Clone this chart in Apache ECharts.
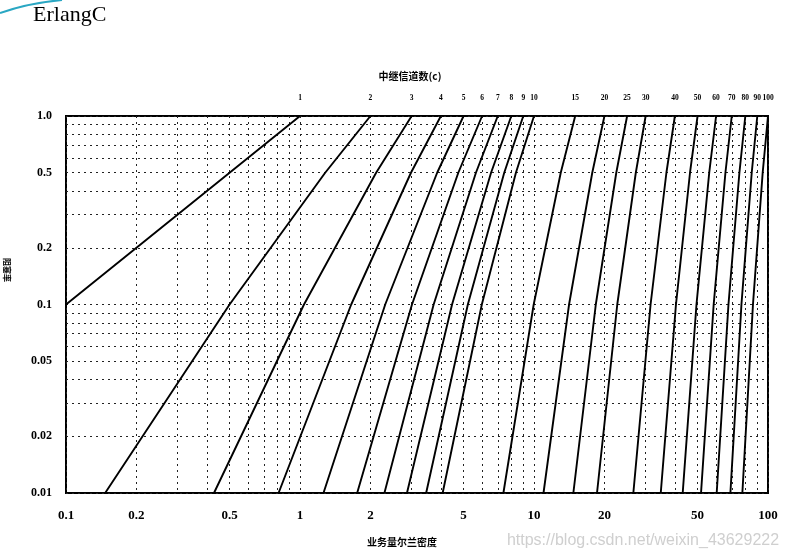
<!DOCTYPE html>
<html><head><meta charset="utf-8">
<script src="https://cdn.jsdelivr.net/npm/echarts@6/dist/echarts.min.js"></script>
<style>html,body{margin:0;padding:0;background:#fff}#c{width:788px;height:558px}</style>
</head><body><div id="c"></div>
<script>
// number of trunks c (one curve each)
const trunks = [1, 2, 3, 4, 5, 6, 7, 8, 9, 10, 15, 20, 25, 30, 40, 50, 60, 70, 80, 90, 100];
// traffic (Erlang) where each curve crosses the given delay probability
const loadAtP001 = [0.01, 0.147, 0.429, 0.81, 1.26, 1.755, 2.295, 2.865, 3.46, 4.07, 7.40, 10.98, 14.73, 18.59, 26.58, 34.81, 43.20, 51.73, 60.36, 69.07, 77.7];
const loadAtP01  = [0.1, 0.5, 1.04, 1.655, 2.313, 3.01, 3.725, 4.465, 5.215, 5.985, 9.97, 14.12, 18.37, 22.69, 31.49, 40.43, 49.47, 58.59, 67.77, 77.0, 86.25];
const loadAtP05  = [0.5, 1.281, 2.115, 2.98, 3.856, 4.748, 5.647, 6.553, 7.46, 8.37, 13.01, 17.74, 22.47, 27.23, 36.80, 46.42, 56.08, 65.77, 75.47, 85.2, 94.9];
const loadAtP1   = [1, 2, 3, 4, 5, 6, 7, 8, 9, 10, 15, 20, 25, 30, 40, 50, 60, 70, 80, 90, 100];
const probLevels = [0.01, 0.1, 0.5, 1.0];

const xTickLabels = [0.1, 0.2, 0.5, 1, 2, 5, 10, 20, 50, 100];
const yTickLabels = [0.01, 0.02, 0.05, 0.1, 0.2, 0.5, 1.0];
const xGridValues = [0.1, 0.2, 0.3, 0.4, 0.5, 0.6, 0.7, 0.8, 0.9, 1, 2, 3, 4, 5, 6, 7, 8, 9, 10, 20, 30, 40, 50, 60, 70, 80, 90, 100];
const yGridValues = [0.01, 0.02, 0.03, 0.04, 0.05, 0.06, 0.07, 0.08, 0.09, 0.1, 0.2, 0.3, 0.4, 0.5, 0.6, 0.7, 0.8, 0.9, 1.0];

const fmt = v => { const r = Number(Number(v).toPrecision(2)); return r === 1 ? '1.0' : String(r); };
const fmtX = v => String(Number(Number(v).toPrecision(2)));

const loadTables = [loadAtP001, loadAtP01, loadAtP05, loadAtP1];
const series = trunks.map((c, i) => ({
  type: 'line',
  name: 'c=' + c,
  xAxisIndex: 0, yAxisIndex: 0,
  data: probLevels.map((p, j) => [loadTables[j][i], p]),
  symbol: 'none',
  clip: true,
  silent: true,
  lineStyle: { color: '#000', width: 1.9 }
}));

const chart = echarts.init(document.getElementById('c'), null, { renderer: 'canvas' });
const labelFont = { fontFamily: 'Liberation Serif', fontWeight: 'bold', color: '#000' };
chart.setOption({
  animation: false,
  backgroundColor: '#fff',
  grid: { left: 66, right: 20, top: 116, bottom: 65, show: true, borderColor: '#000', borderWidth: 2, backgroundColor: 'transparent' },
  xAxis: [
    {
      type: 'log', logBase: 10, min: 0.1, max: 100, position: 'bottom',
      axisLine: { show: false },
      axisTick: { show: false, customValues: xGridValues },
      splitLine: { show: true, lineStyle: { color: '#222', type: [2, 4], width: 1 } },
      minorTick: { show: false }, minorSplitLine: { show: false },
      axisLabel: Object.assign({ customValues: xTickLabels, formatter: fmtX, fontSize: 13, margin: 16 }, labelFont)
    },
    {
      type: 'log', logBase: 10, min: 0.1, max: 100, position: 'top',
      axisLine: { show: false }, axisTick: { show: false }, splitLine: { show: false },
      axisLabel: Object.assign({ customValues: trunks, formatter: v => String(Math.round(v)), fontSize: 7.5, margin: 14 }, labelFont)
    }
  ],
  yAxis: {
    type: 'log', logBase: 10, min: 0.01, max: 1,
    axisLine: { show: false },
    axisTick: { show: false, customValues: yGridValues },
    splitLine: { show: true, lineStyle: { color: '#222', type: [2, 4], width: 1 } },
    axisLabel: Object.assign({ customValues: yTickLabels, formatter: fmt, fontSize: 12, margin: 14 }, labelFont)
  },
  graphic: [
    { type: 'bezierCurve', shape: { x1: 0, y1: 13, cpx1: 20, cpy1: 6, cpx2: 40, cpy2: 2, x2: 62, y2: 0 }, style: { stroke: '#2aa7c3', lineWidth: 2, fill: null } },
    { type: 'text', left: 33, top: 4, style: { text: 'ErlangC', font: '22px "Liberation Serif"', fill: '#000' } },
    { type: 'text', x: 410, y: 76, style: { text: '中继信道数(c)', font: 'bold 10px "Noto Sans CJK SC"', fill: '#000', align: 'center', verticalAlign: 'middle' } },
    { type: 'text', x: 402, y: 542, style: { text: '业务量尔兰密度', font: 'bold 10px "Noto Sans CJK SC"', fill: '#000', align: 'center', verticalAlign: 'middle' } },
    { type: 'text', x: 7, y: 270, rotation: -Math.PI / 2, style: { text: '阻塞率', font: 'bold 8px "Noto Sans CJK SC"', fill: '#000', align: 'center', verticalAlign: 'middle' } },
    { type: 'text', x: 643, y: 541, style: { text: 'https://blog.csdn.net/weixin_43629222', font: '16px "Liberation Sans"', fill: '#cfcfcf', align: 'center', verticalAlign: 'middle' } }
  ],
  series: series
});
</script></body></html>
